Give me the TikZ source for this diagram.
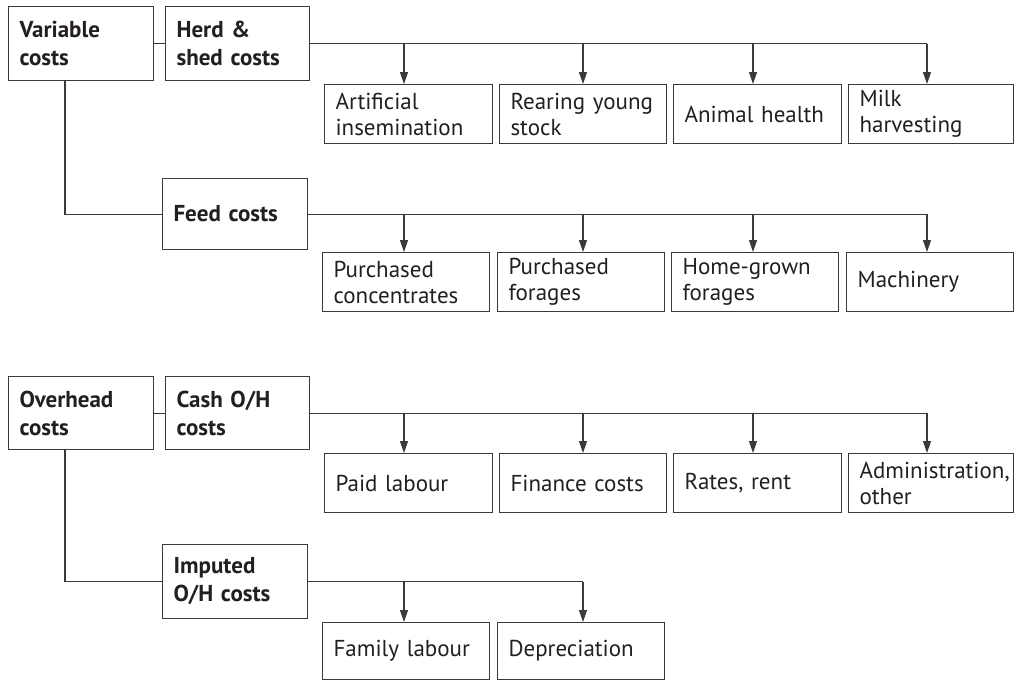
\documentclass[tikz,border=0pt]{standalone}
\usepackage{fontspec}
\setmainfont{PT Sans}
\usetikzlibrary{arrows.meta}
\definecolor{ink}{HTML}{231F20}
\definecolor{rule}{HTML}{3A3A3A}
\begin{document}
\begin{tikzpicture}[x=1pt,y=-1pt,
  every node/.style={text=ink},
  box/.style={draw=rule, line width=1.1pt, anchor=north west, align=left,
    inner xsep=11pt, inner ysep=0pt, fill=white},
  head/.style={box, font=\bfseries\fontsize{23}{28}\selectfont, text width=#1},
  leaf/.style={box, font=\fontsize{23}{26}\selectfont, text width=#1, minimum height=59pt},
  link/.style={draw=rule, line width=1.1pt},
  arr/.style={link, -{Triangle[width=8pt,length=12pt]}}
]
\useasboundingbox (0,0) rectangle (1015,680);

% ---- variable costs ----
\node[head=123pt, minimum height=74pt] (var)  at (8,6)   {Variable\\costs};
\node[head=122pt, minimum height=74pt] (herd) at (165,6) {Herd \&\\shed costs};
\node[head=123pt, minimum height=71pt] (feed) at (162,178) {Feed costs};

\node[leaf=146pt] (ai)   at (324,84) {Artificial\\insemination};
\node[leaf=145pt] (rear) at (499,84) {Rearing young\\stock};
\node[leaf=146pt] (anim) at (673,84) {Animal health};
\node[leaf=143pt] (milk) at (848,84) {Milk\\harvesting};

\node[leaf=145pt] (pconc) at (322,252) {Purchased\\concentrates};
\node[leaf=145pt] (pfor)  at (497,252) {Purchased\\forages};
\node[leaf=145pt] (hgf)   at (671,252) {Home-grown\\forages};
\node[leaf=145pt] (mach)  at (846,252) {Machinery};

% ---- overhead costs ----
\node[head=123pt, minimum height=73pt] (ovh)  at (8,376)   {Overhead\\costs};
\node[head=122pt, minimum height=73pt] (cash) at (165,376) {Cash O/H\\costs};
\node[head=123pt, minimum height=74pt] (imp)  at (162,544) {Imputed\\O/H costs};

\node[leaf=146pt] (paid) at (324,453) {Paid labour};
\node[leaf=145pt] (fin)  at (499,453) {Finance costs};
\node[leaf=146pt] (rate) at (673,453) {Rates, rent};
\node[leaf=143pt] (adm)  at (848,453) {Administration,\\other};

\node[leaf=145pt, minimum height=57pt] (fam) at (322,622) {Family labour};
\node[leaf=145pt, minimum height=57pt] (dep) at (497,622) {Depreciation};

% branch columns
\coordinate (trunk) at (65,0);
\coordinate (c1) at (404,0);
\coordinate (c2) at (583,0);
\coordinate (c3) at (753,0);
\coordinate (c4) at (927,0);

% ---- connectors: variable costs ----
\draw[link] (var.east) -- (herd.west);
\draw[link] (herd.east) -- (c4 |- herd.east);
\draw[arr] (c1 |- herd.east) -- (c1 |- ai.north);
\draw[arr] (c2 |- herd.east) -- (c2 |- rear.north);
\draw[arr] (c3 |- herd.east) -- (c3 |- anim.north);
\draw[arr] (c4 |- herd.east) -- (c4 |- milk.north);

\draw[link] (trunk |- var.south) -- (trunk |- feed.west) -- (feed.west);
\draw[link] (feed.east) -- (c4 |- feed.east);
\draw[arr] (c1 |- feed.east) -- (c1 |- pconc.north);
\draw[arr] (c2 |- feed.east) -- (c2 |- pfor.north);
\draw[arr] (c3 |- feed.east) -- (c3 |- hgf.north);
\draw[arr] (c4 |- feed.east) -- (c4 |- mach.north);

% ---- connectors: overhead costs ----
\draw[link] (ovh.east) -- (cash.west);
\draw[link] (cash.east) -- (c4 |- cash.east);
\draw[arr] (c1 |- cash.east) -- (c1 |- paid.north);
\draw[arr] (c2 |- cash.east) -- (c2 |- fin.north);
\draw[arr] (c3 |- cash.east) -- (c3 |- rate.north);
\draw[arr] (c4 |- cash.east) -- (c4 |- adm.north);

\draw[link] (trunk |- ovh.south) -- (trunk |- imp.west) -- (imp.west);
\draw[link] (imp.east) -- (c2 |- imp.east);
\draw[arr] (c1 |- imp.east) -- (c1 |- fam.north);
\draw[arr] (c2 |- imp.east) -- (c2 |- dep.north);
\end{tikzpicture}
\end{document}
